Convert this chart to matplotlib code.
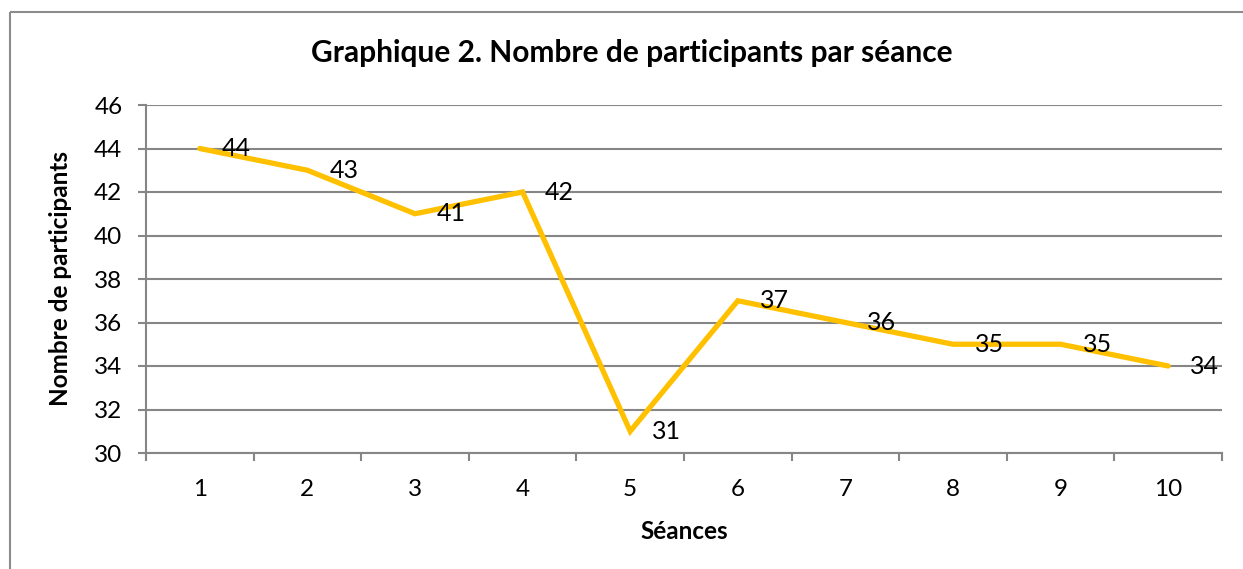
import matplotlib
matplotlib.use("Agg")
import matplotlib.pyplot as plt
from matplotlib.patches import Rectangle

seances = [1, 2, 3, 4, 5, 6, 7, 8, 9, 10]
participants = [44, 43, 41, 42, 31, 37, 36, 35, 35, 34]
yticks = [30, 32, 34, 36, 38, 40, 42, 44, 46]

plt.rcParams['font.family'] = ['Lato', 'DejaVu Sans']

W, H = 1243, 569
fig = plt.figure(figsize=(W / 100, H / 100), dpi=100)
fig.patch.set_facecolor('white')

# outer chart border
fig.patches.append(Rectangle((10 / W, 1 - 12 / H), 1.5, -1.5, transform=fig.transFigure,
                             fill=False, edgecolor='#8c8c8c', linewidth=1.5, clip_on=False))

ax = fig.add_axes([146 / W, 1 - 453 / H, (1222 - 146) / W, (453 - 105) / H])
ax.plot(seances, participants, color='#FFC000', linewidth=3.8, solid_capstyle='round',
        solid_joinstyle='miter', zorder=3)

for x, y in zip(seances, participants):
    ax.annotate(str(y), (x, y), xytext=(22, 0), textcoords='offset pixels',
                ha='left', va='center', fontsize=18, color='black', zorder=4)

ax.set_xlim(0.5, 10.5)
ax.set_ylim(30, 46)
ax.set_yticks(yticks)
ax.set_yticklabels([str(v) for v in yticks])
ax.set_xticks(seances)
ax.set_xticklabels([str(v) for v in seances])
ax.set_xticks([v + 0.5 for v in [0] + seances], minor=True)

ax.grid(axis='y', color='#868686', linewidth=1.5, zorder=1)
for s in ['top', 'right']:
    ax.spines[s].set_visible(False)
for s in ['left', 'bottom']:
    ax.spines[s].set_color('#868686')
    ax.spines[s].set_linewidth(1.5)

ax.tick_params(axis='y', which='major', length=6, width=1.5, color='#868686',
               labelsize=17.5, pad=11)
ax.tick_params(axis='x', which='major', length=0, labelsize=17.5, pad=19)
ax.tick_params(axis='x', which='minor', length=6, width=1.5, color='#868686')

ax.set_xlabel('Séances', fontsize=17.5, fontweight='bold', labelpad=14)
ax.set_ylabel('Nombre de participants', fontsize=17.5, fontweight='bold', labelpad=16)

fig.text(632 / W, 1 - 53 / H, 'Graphique 2. Nombre de participants par séance',
         ha='center', va='center', fontsize=21.5, fontweight='bold')

fig.savefig('out.png', dpi=100, facecolor='white')
